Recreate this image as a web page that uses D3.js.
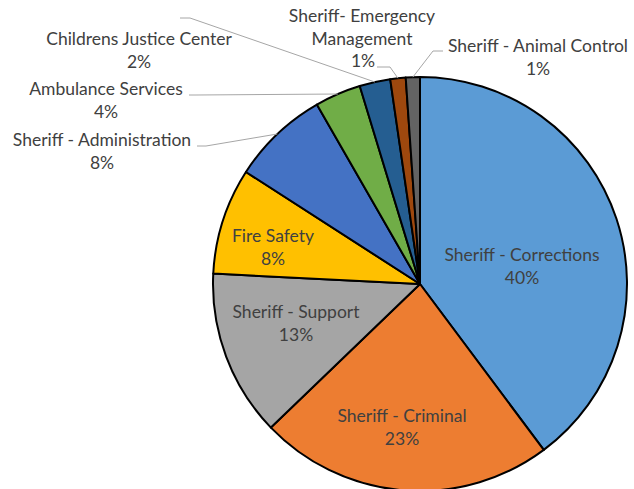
<!DOCTYPE html>
<html>
<head>
<meta charset="utf-8">
<script src="https://cdn.jsdelivr.net/npm/d3@7"></script>
<style>
  html, body { margin: 0; padding: 0; background: #fff; }
  svg { display: block; }
  text { font-family: Lato, "Open Sans", sans-serif; font-size: 17.5px; fill: #404040; }
</style>
</head>
<body>
<svg id="chart" width="634" height="489"></svg>
<script>
// Budget shares by department (percent of total)
const categories = [
  "Sheriff - Corrections",
  "Sheriff - Criminal",
  "Sheriff - Support",
  "Fire Safety",
  "Sheriff - Administration",
  "Ambulance Services",
  "Childrens Justice Center",
  "Sheriff- Emergency Management",
  "Sheriff - Animal Control"
];
const values = [39.8, 23.0, 13.0, 8.3, 7.6, 3.6, 2.4, 1.2, 1.1];
const colors = ["#5B9BD5", "#ED7D31", "#A5A5A5", "#FFC000", "#4472C4",
                "#70AD47", "#255E91", "#9E480E", "#636363"];

// Label lines as drawn (category text split into rows)
const labelLines = [
  ["Sheriff - Corrections"],
  ["Sheriff - Criminal"],
  ["Sheriff - Support"],
  ["Fire Safety"],
  ["Sheriff - Administration"],
  ["Ambulance Services"],
  ["Childrens Justice Center"],
  ["Sheriff- Emergency", "Management"],
  ["Sheriff - Animal Control"]
];

// Label placement: anchor x, first baseline y; outside labels get a leader elbow
const labelLayout = [
  { x: 522, y: 261, inside: true },
  { x: 402, y: 422, inside: true },
  { x: 296, y: 318, inside: true },
  { x: 273, y: 242, inside: true },
  { x: 102, y: 146, leader: [[197, 146], [206, 146]] },
  { x: 106, y: 95,  leader: [[189, 95], [196, 95]] },
  { x: 139, y: 45,  leader: [[180, 18], [190, 18]] },
  { x: 362, y: 22, pctX: 363, leader: [[377, 67], [390, 67]] },
  { x: 538, y: 52,  leader: [[443, 51], [433, 51]] }
];
const rowH = 22.5;

const svg = d3.select("#chart");
const cx = 420, cy = 284, r = 207;

const total = d3.sum(values);
const pie = d3.pie().sort(null).value(d => d)(values);
const arc = d3.arc().innerRadius(0).outerRadius(r);

const g = svg.append("g").attr("transform", `translate(${cx},${cy})`);

g.selectAll("path.slice")
  .data(pie)
  .join("path")
  .attr("class", "slice")
  .attr("d", arc)
  .attr("fill", (d, i) => colors[i])
  .attr("stroke", "#000")
  .attr("stroke-width", 2)
  .attr("stroke-linejoin", "round");

const pct = v => Math.round(v / total * 100) + "%";

// Leader lines from outside labels to the slice edge at its mid angle
pie.forEach((d, i) => {
  const L = labelLayout[i];
  if (!L.leader) return;
  const mid = (d.startAngle + d.endAngle) / 2;
  const end = [cx + r * Math.sin(mid), cy - r * Math.cos(mid)];
  const pts = L.leader.concat([end]);
  svg.append("path")
    .attr("d", d3.line()(pts))
    .attr("fill", "none")
    .attr("stroke", "#A6A6A6")
    .attr("stroke-width", 1);
});

// Category and percentage labels
pie.forEach((d, i) => {
  const L = labelLayout[i];
  const rows = labelLines[i];
  const t = svg.append("text").attr("text-anchor", "middle");
  rows.forEach((row, k) => {
    t.append("tspan").attr("x", L.x).attr("y", L.y + k * rowH).text(row);
  });
  t.append("tspan")
    .attr("x", L.pctX || L.x)
    .attr("y", L.y + rows.length * rowH)
    .text(pct(d.data));
});
</script>
</body>
</html>
